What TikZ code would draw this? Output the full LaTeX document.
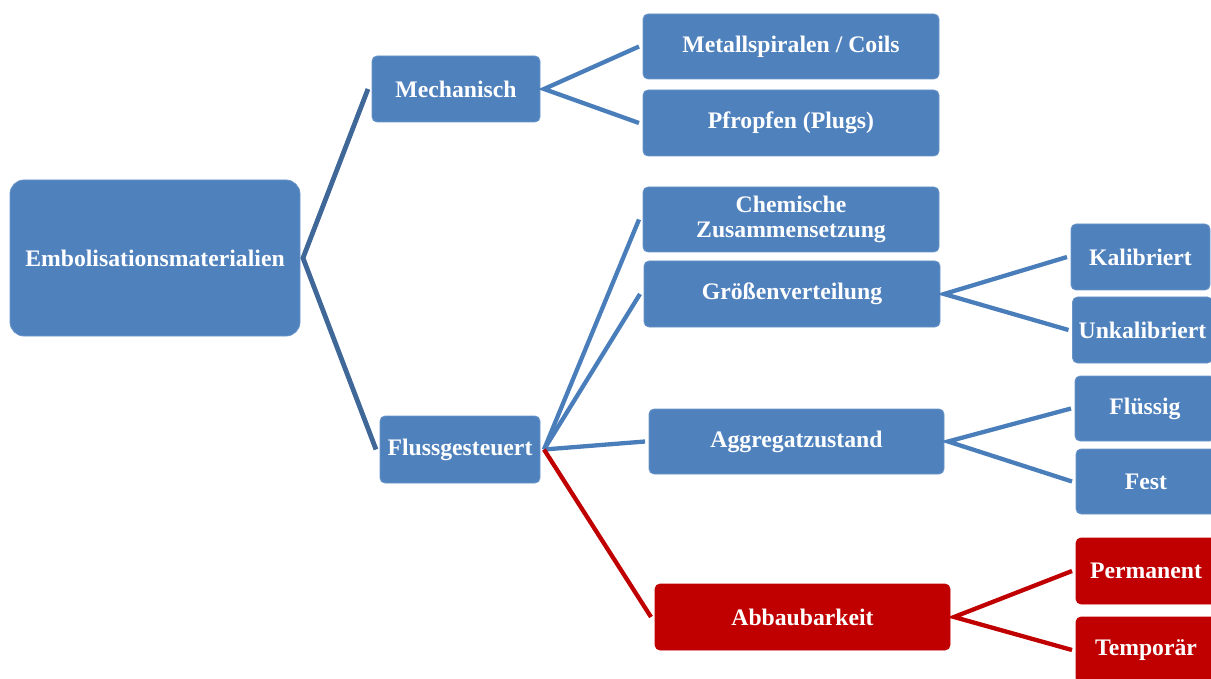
\documentclass[tikz,border=0pt]{standalone}
\usepackage{fontspec}
\setmainfont{Liberation Serif}
\definecolor{boxblue}{HTML}{4F81BD}
\definecolor{boxedge}{HTML}{6A95C8}
\definecolor{lineblue}{HTML}{4A7EBB}
\definecolor{rootline}{HTML}{3F6797}
\definecolor{boxred}{HTML}{C00000}
\tikzset{
  box/.style={rectangle, rounded corners=5pt, fill=boxblue, draw=boxedge, line width=0.8pt,
    text=white, font=\fontsize{23.7}{25}\selectfont\bfseries, align=center,
    inner sep=0pt, outer sep=4pt},
  redbox/.style={box, fill=boxred, draw=boxred},
  link/.style={draw=lineblue, line width=4.3pt},
  rootlink/.style={draw=rootline, line width=4.8pt},
  redlink/.style={draw=boxred, line width=4.3pt}
}
\begin{document}
\begin{tikzpicture}[x=1pt,y=-1pt]
\useasboundingbox (0,0) rectangle (1211,679);
\clip (0,0) rectangle (1211,679);
\node[box, rounded corners=14pt, minimum width=290pt, minimum height=156pt, outer sep=3pt] (root) at (155,258) {Embolisationsmaterialien};
\node[box, minimum width=168pt, minimum height=66pt] (mech) at (456,89) {Mechanisch};
\node[box, minimum width=160pt, minimum height=67pt] (fluss) at (460,449.5) {Flussgesteuert};
\node[box, minimum width=296pt, minimum height=65pt] (metall) at (791,46.5) {Metallspiralen / Coils};
\node[box, minimum width=296pt, minimum height=66pt] (pfropf) at (791,123) {Pfropfen (Plugs)};
\node[box, minimum width=296pt, minimum height=65pt] (chem) at (791,219.5) {Chemische\\Zusammensetzung};
\node[box, minimum width=296pt, minimum height=66pt] (groesse) at (792,294) {Größenverteilung};
\node[box, minimum width=295pt, minimum height=65pt] (aggr) at (796.5,441.5) {Aggregatzustand};
\node[redbox, minimum width=295pt, minimum height=66pt] (abbau) at (802.5,617) {Abbaubarkeit};
\node[box, minimum width=139pt, minimum height=66pt] (kalib) at (1140.5,257) {Kalibriert};
\node[box, minimum width=140pt, minimum height=66pt] (unkal) at (1142.5,330) {Unkalibriert};
\node[box, minimum width=140pt, minimum height=65pt] (fluessig) at (1145,408.5) {Flüssig};
\node[box, minimum width=140pt, minimum height=65pt] (fest) at (1146,481.5) {Fest};
\node[redbox, minimum width=140pt, minimum height=66pt] (perm) at (1146,571) {Permanent};
\node[redbox, minimum width=140pt, minimum height=66pt] (temp) at (1146,650) {Temporär};
% connectors
\draw[rootlink] (mech.west) -- (root.east) -- (fluss.west);
\draw[link] (metall.west) -- (mech.east) -- (pfropf.west);
\draw[link] (chem.west) -- (fluss.east);
\draw[link] (groesse.west) -- (fluss.east);
\draw[link] (aggr.west) -- (fluss.east);
\draw[redlink] (fluss.east) -- (abbau.west);
\draw[link] (kalib.west) -- (groesse.east) -- (unkal.west);
\draw[link] (fluessig.west) -- (aggr.east) -- (fest.west);
\draw[redlink] (perm.west) -- (abbau.east) -- (temp.west);
\end{tikzpicture}
\end{document}
